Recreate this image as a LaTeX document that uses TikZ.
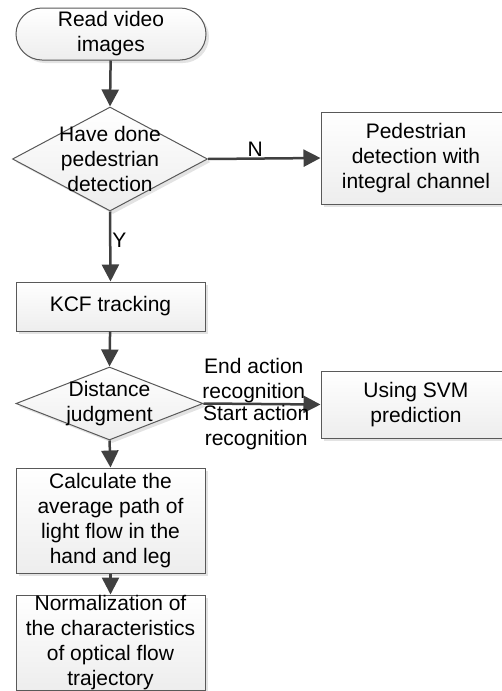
\documentclass[tikz,border=0pt]{standalone}
\usepackage{fontspec}
\setmainfont{Liberation Sans}
\usetikzlibrary{shapes.geometric,arrows.meta,shadows}

\begin{document}
\begin{tikzpicture}[x=1pt,y=-1pt,
  font=\fontsize{21}{25}\selectfont,
  shade/.style={top color=white,bottom color=gray!14,
    drop shadow={shadow xshift=3pt,shadow yshift=-3pt,fill=gray!40,opacity=.55}},
  terminal/.style={rectangle,draw=black!65,line width=1pt,shade,rounded corners=26pt,
    minimum width=190pt,minimum height=52pt,inner sep=0pt,align=center},
  process/.style={rectangle,draw=black!65,line width=1pt,shade,
    minimum width=189pt,inner sep=0pt,align=center},
  decision/.style={diamond,draw=black!65,line width=1pt,shade,inner sep=0pt},
  line/.style={draw=black!75,line width=2.5pt,-{Triangle[length=17pt,width=17pt]}},
  tag/.style={inner sep=1pt,align=center}]
    \useasboundingbox (0,0) rectangle (502,691);
    % Main column
    \node[terminal] (read) at (111,34) {Read video\\images};
    \node[decision,minimum width=195pt,minimum height=104pt,
      label={[name=havetext,align=center]center:Have done\\pedestrian\\detection}]
      (have) at (110,159) {};
    \node[process,minimum height=49pt] (kcf) at (110.5,306.5) {KCF tracking};
    \node[decision,minimum width=187pt,minimum height=73pt,
      label={[name=disttext,align=center]center:Distance\\judgment}]
      (dist) at (109.5,403.5) {};
    \node[process,minimum height=105pt] (calc) at (110.5,520.5)
      {Calculate the\\average path of\\light flow in the\\hand and leg};
    \node[process,minimum height=95pt] (norm) at (110.5,642.5)
      {Normalization of\\the characteristics\\of optical flow\\trajectory};
    % Side branches
    \node[process,minimum width=190pt,minimum height=92pt] (pdet) at (416,158)
      {Pedestrian\\detection with\\integral channel};
    \node[process,minimum width=190pt,minimum height=67pt] (svm) at (416,404.5)
      {Using SVM\\prediction};
    % Connectors
    \draw[line] (read) -- (have.north);
    \draw[line] (have.east) -- node[tag,above,pos=.42] (no) {N} (pdet.west);
    \draw[line] (have.south) -- node[tag,right,pos=.41] (yes) {Y} (kcf.north);
    \draw[line] (kcf) -- (dist.north);
    \draw[line] (dist.east) --
      node[tag,above,pos=.43,inner sep=0pt] (endrec) {End action\\recognition}
      node[tag,below,pos=.45,inner sep=0pt] (startrec) {Start action\\recognition}
      (svm.west);
    \draw[line] (dist.south) -- (calc.north);
    \draw[line] (calc) -- (norm);
\end{tikzpicture}
\end{document}
